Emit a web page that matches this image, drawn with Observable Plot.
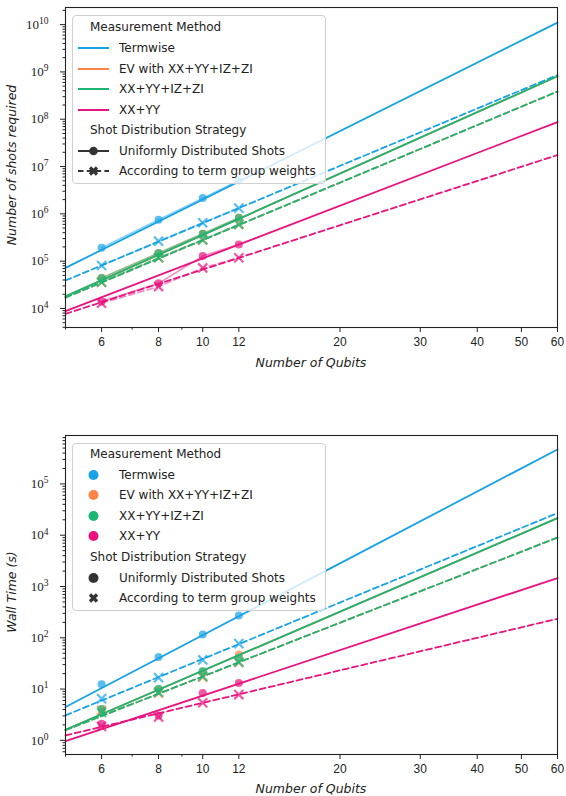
<!DOCTYPE html>
<html>
<head>
<meta charset="utf-8">
<script src="https://cdn.jsdelivr.net/npm/d3@7"></script>
<script src="https://cdn.jsdelivr.net/npm/@observablehq/plot@0.6"></script>
<style>
  body { margin: 0; background: #fff; font-family: "DejaVu Sans", sans-serif; }
  #wrap { position: relative; width: 566px; height: 796px; overflow: hidden; }
  .panel { position: absolute; left: 0; }
  .legend { position: absolute; left: 72px; width: 254px; border: 1px solid #d0d0d0; border-radius: 4px;
            background: rgba(255,255,255,0.8); box-sizing: border-box; font-size: 12px; color: #222; }
  .row { position: absolute; left: 0; height: 20px; line-height: 20px; white-space: nowrap; }
  .row svg { position: absolute; left: 4px; top: 0; }
  .row .lab { position: absolute; left: 46px; }
  .row.title .lab { left: 17px; }
</style>
</head>
<body>
<div id="wrap">
  <div id="top" class="panel" style="top:0px"></div>
  <div id="bottom" class="panel" style="top:420px"></div>
  <div id="legTop" class="legend" style="top:15px;height:169px"></div>
  <div id="legBottom" class="legend" style="top:443px;height:168px"></div>
</div>
<script>
// ---------------- data ----------------
const methods = ["Termwise", "EV with XX+YY+IZ+ZI", "XX+YY+IZ+ZI", "XX+YY"];
const methodColors = ["#17a2e6", "#ff8547", "#1db574", "#e8137e"];
const strategies = ["Uniformly Distributed Shots", "According to term group weights"];
const qubits = [6, 8, 10, 12];
const fitQubits = [5, 60];
const xTicks = [6, 8, 10, 12, 20, 30, 40, 50, 60];
const xMinorTicks = [5, 7, 9];

// Number of shots required (top panel)
const shotsTermwiseUniform = [1.92e5, 7.5e5, 2.15e6, 5.1e6];
const shotsTermwiseWeighted = [8.1e4, 2.65e5, 6.5e5, 1.32e6];
const shotsEVUniform = [4.4e4, 1.48e5, 3.8e5, 8.3e5];
const shotsEVWeighted = [3.6e4, 1.18e5, 2.8e5, 6.0e5];
const shotsGroupedUniform = [4.4e4, 1.48e5, 3.8e5, 8.3e5];
const shotsGroupedWeighted = [3.6e4, 1.18e5, 2.8e5, 6.0e5];
const shotsXXYYUniform = [1.4e4, 3.4e4, 1.28e5, 2.25e5];
const shotsXXYYWeighted = [1.29e4, 2.9e4, 7.2e4, 1.18e5];
// fitted lines, values at 5 and 60 qubits
const shotsFitTermwiseUniform = [7.2e4, 1.1e10];
const shotsFitTermwiseWeighted = [3.9e4, 8.6e8];
const shotsFitEVUniform = [1.8e4, 8.1e8];
const shotsFitEVWeighted = [1.7e4, 3.85e8];
const shotsFitGroupedUniform = [1.8e4, 8.1e8];
const shotsFitGroupedWeighted = [1.7e4, 3.85e8];
const shotsFitXXYYUniform = [8.8e3, 8.7e7];
const shotsFitXXYYWeighted = [7.7e3, 1.75e7];
const shotsDomain = [3.96e3, 2.3e10];
const shotsTicks = [1e4, 1e5, 1e6, 1e7, 1e8, 1e9, 1e10];

// Wall time in seconds (bottom panel)
const timeTermwiseUniform = [12.4, 42, 116, 273];
const timeTermwiseWeighted = [6.5, 16.7, 37, 77];
const timeEVUniform = [4.0, 9.8, 21.5, 47];
const timeEVWeighted = [3.85, 8.3, 17.0, 33];
const timeGroupedUniform = [4.1, 10.2, 22.4, 41];
const timeGroupedWeighted = [3.5, 8.7, 17.7, 33.6];
const timeXXYYUniform = [2.1, 3.07, 8.4, 13.1];
const timeXXYYWeighted = [1.87, 2.85, 5.4, 7.8];
const timeFitTermwiseUniform = [4.46, 4.7e5];
const timeFitTermwiseWeighted = [3.07, 2.7e4];
const timeFitEVUniform = [1.61, 2.15e4];
const timeFitEVWeighted = [1.58, 9.0e3];
const timeFitGroupedUniform = [1.61, 2.15e4];
const timeFitGroupedWeighted = [1.58, 9.0e3];
const timeFitXXYYUniform = [0.97, 1460];
const timeFitXXYYWeighted = [1.25, 235];
const timeDomain = [0.53, 8.8e5];
const timeTicks = [1, 10, 100, 1e3, 1e4, 1e5];

// ---------------- helpers ----------------
function rows(method, strategy, xs, ys) {
  return xs.map((x, i) => ({ method, strategy, key: method + "|" + strategy, x, y: ys[i] }));
}
function minorTicks(domain) {
  const out = [];
  const lo = Math.floor(Math.log10(domain[0])), hi = Math.ceil(Math.log10(domain[1]));
  for (let e = lo; e <= hi; e++) for (let m = 2; m <= 9; m++) {
    const v = m * Math.pow(10, e);
    if (v >= domain[0] && v <= domain[1]) out.push(v);
  }
  return out;
}
const U = strategies[0], Wt = strategies[1];
const drawOrder = ["EV with XX+YY+IZ+ZI", "Termwise", "XX+YY+IZ+ZI", "XX+YY"];

function buildPlot(cfg) {
  const { points, fits, domain, ticks, height, marginTop, marginBottom, connect } = cfg;
  const marks = [
    Plot.axisX({ ticks: xTicks, tickFormat: d => String(d), tickSize: 5, tickPadding: 5, fontSize: 12,
                 fontFamily: "Liberation Sans, sans-serif", label: null, stroke: "#222" }),
    Plot.axisX({ ticks: xMinorTicks, tickFormat: () => "", tickSize: 2.5, label: null, stroke: "#222" }),
    Plot.axisY({ ticks: ticks, tickFormat: d => "10^" + Math.round(Math.log10(d)), tickSize: 5, tickPadding: 12,
                 fontSize: 13, fontFamily: "Liberation Serif, serif", label: null, stroke: "#222" }),
    Plot.axisY({ ticks: minorTicks(domain), tickFormat: () => "", tickSize: 2.5, label: null, stroke: "#222" })
  ];
  for (const m of drawOrder) {
    const pm = points.filter(d => d.method === m);
    const fm = fits.filter(d => d.method === m);
    if (connect) {
      marks.push(Plot.line(pm.filter(d => d.strategy === U), { x: "x", y: "y", z: "key", stroke: "method", strokeWidth: 1.6, strokeOpacity: 0.5 }));
      marks.push(Plot.line(pm.filter(d => d.strategy === Wt), { x: "x", y: "y", z: "key", stroke: "method", strokeWidth: 1.6, strokeOpacity: 0.5, strokeDasharray: "6,3.5" }));
    }
    marks.push(Plot.line(fm.filter(d => d.strategy === U), { x: "x", y: "y", z: "key", stroke: "method", strokeWidth: 1.8 }));
    marks.push(Plot.line(fm.filter(d => d.strategy === Wt), { x: "x", y: "y", z: "key", stroke: "method", strokeWidth: 1.8, strokeDasharray: "6,3.5" }));
    marks.push(Plot.dot(pm.filter(d => d.strategy === U), { x: "x", y: "y", fill: "method", r: 4, fillOpacity: 0.7 }));
    marks.push(Plot.dot(pm.filter(d => d.strategy === Wt), { x: "x", y: "y", stroke: "method", symbol: "times", r: 4.2, strokeWidth: 2.2, strokeOpacity: 0.7 }));
  }
  marks.push(Plot.frame({ stroke: "#222", strokeWidth: 1.1 }));
  const svg = Plot.plot({
    width: 566, height, marginLeft: 65, marginRight: 9, marginTop, marginBottom,
    style: { background: "transparent", color: "#222" },
    x: { type: "log", domain: [5, 60] },
    y: { type: "log", domain },
    color: { domain: methods, range: methodColors },
    marks
  });
  // superscript exponents on y tick labels
  d3.select(svg).selectAll('g[aria-label="y-axis tick label"] text').each(function () {
    const t = this.textContent;
    if (!t.includes("^")) return;
    const [base, exp] = t.split("^");
    const sel = d3.select(this);
    sel.text(null);
    sel.append("tspan").text(base);
    sel.append("tspan").attr("dy", "-0.5em").attr("font-size", "9.5px").text(exp);
  });
  return svg;
}

function addLabels(svg, xLabelY, yLabelX, yLabelY, yText) {
  const s = d3.select(svg);
  s.append("text").attr("x", 311).attr("y", xLabelY).attr("text-anchor", "middle")
    .attr("font-family", "DejaVu Sans, sans-serif").attr("font-style", "italic").attr("font-size", "12.5px")
    .attr("fill", "#222").text("Number of Qubits");
  s.append("text").attr("transform", `translate(${yLabelX},${yLabelY}) rotate(-90)`).attr("text-anchor", "middle")
    .attr("font-family", "DejaVu Sans, sans-serif").attr("font-style", "italic").attr("font-size", "12.5px")
    .attr("fill", "#222").text(yText);
}

// ---------------- top panel ----------------
const shotPoints = [
  ...rows("Termwise", U, qubits, shotsTermwiseUniform), ...rows("Termwise", Wt, qubits, shotsTermwiseWeighted),
  ...rows("EV with XX+YY+IZ+ZI", U, qubits, shotsEVUniform), ...rows("EV with XX+YY+IZ+ZI", Wt, qubits, shotsEVWeighted),
  ...rows("XX+YY+IZ+ZI", U, qubits, shotsGroupedUniform), ...rows("XX+YY+IZ+ZI", Wt, qubits, shotsGroupedWeighted),
  ...rows("XX+YY", U, qubits, shotsXXYYUniform), ...rows("XX+YY", Wt, qubits, shotsXXYYWeighted)
];
const shotFits = [
  ...rows("Termwise", U, fitQubits, shotsFitTermwiseUniform), ...rows("Termwise", Wt, fitQubits, shotsFitTermwiseWeighted),
  ...rows("EV with XX+YY+IZ+ZI", U, fitQubits, shotsFitEVUniform), ...rows("EV with XX+YY+IZ+ZI", Wt, fitQubits, shotsFitEVWeighted),
  ...rows("XX+YY+IZ+ZI", U, fitQubits, shotsFitGroupedUniform), ...rows("XX+YY+IZ+ZI", Wt, fitQubits, shotsFitGroupedWeighted),
  ...rows("XX+YY", U, fitQubits, shotsFitXXYYUniform), ...rows("XX+YY", Wt, fitQubits, shotsFitXXYYWeighted)
];
const topSvg = buildPlot({ points: shotPoints, fits: shotFits, domain: shotsDomain, ticks: shotsTicks,
  height: 420, marginTop: 7, marginBottom: 93, connect: true });
addLabels(topSvg, 367, 16, 165, "Number of shots required");
document.getElementById("top").appendChild(topSvg);

// ---------------- bottom panel ----------------
const timePoints = [
  ...rows("Termwise", U, qubits, timeTermwiseUniform), ...rows("Termwise", Wt, qubits, timeTermwiseWeighted),
  ...rows("EV with XX+YY+IZ+ZI", U, qubits, timeEVUniform), ...rows("EV with XX+YY+IZ+ZI", Wt, qubits, timeEVWeighted),
  ...rows("XX+YY+IZ+ZI", U, qubits, timeGroupedUniform), ...rows("XX+YY+IZ+ZI", Wt, qubits, timeGroupedWeighted),
  ...rows("XX+YY", U, qubits, timeXXYYUniform), ...rows("XX+YY", Wt, qubits, timeXXYYWeighted)
];
const timeFits = [
  ...rows("Termwise", U, fitQubits, timeFitTermwiseUniform), ...rows("Termwise", Wt, fitQubits, timeFitTermwiseWeighted),
  ...rows("EV with XX+YY+IZ+ZI", U, fitQubits, timeFitEVUniform), ...rows("EV with XX+YY+IZ+ZI", Wt, fitQubits, timeFitEVWeighted),
  ...rows("XX+YY+IZ+ZI", U, fitQubits, timeFitGroupedUniform), ...rows("XX+YY+IZ+ZI", Wt, fitQubits, timeFitGroupedWeighted),
  ...rows("XX+YY", U, fitQubits, timeFitXXYYUniform), ...rows("XX+YY", Wt, fitQubits, timeFitXXYYWeighted)
];
const botSvg = buildPlot({ points: timePoints, fits: timeFits, domain: timeDomain, ticks: timeTicks,
  height: 376, marginTop: 15, marginBottom: 42, connect: false });
addLabels(botSvg, 373, 16, 172, "Wall Time (s)");
document.getElementById("bottom").appendChild(botSvg);

// ---------------- legends ----------------
const NS = "http://www.w3.org/2000/svg";
function swatch(kind, color) {
  const svg = d3.create("svg").attr("width", 34).attr("height", 20);
  if (kind === "line") {
    svg.append("line").attr("x1", 1).attr("x2", 32).attr("y1", 10).attr("y2", 10).attr("stroke", color).attr("stroke-width", 2);
  } else if (kind === "lineDot") {
    svg.append("line").attr("x1", 1).attr("x2", 32).attr("y1", 10).attr("y2", 10).attr("stroke", color).attr("stroke-width", 2);
    svg.append("circle").attr("cx", 16.5).attr("cy", 10).attr("r", 4.3).attr("fill", color);
  } else if (kind === "lineX") {
    svg.append("line").attr("x1", 1).attr("x2", 32).attr("y1", 10).attr("y2", 10).attr("stroke", color).attr("stroke-width", 2).attr("stroke-dasharray", "5.5,3.3");
    svg.append("path").attr("d", "M13,6.5L20,13.5M20,6.5L13,13.5").attr("stroke", color).attr("stroke-width", 3.2);
  } else if (kind === "dot") {
    svg.append("circle").attr("cx", 16.5).attr("cy", 10).attr("r", 5).attr("fill", color);
  } else if (kind === "x") {
    svg.append("path").attr("d", "M13,6.5L20,13.5M20,6.5L13,13.5").attr("stroke", color).attr("stroke-width", 3.4);
  }
  return svg.node();
}
function buildLegend(el, centers, methodKind, uniKind, wKind) {
  const items = [
    { title: true, text: "Measurement Method" },
    ...methods.map((m, i) => ({ text: m, kind: methodKind, color: methodColors[i] })),
    { title: true, text: "Shot Distribution Strategy" },
    { text: strategies[0], kind: uniKind, color: "#333" },
    { text: strategies[1], kind: wKind, color: "#333" }
  ];
  items.forEach((it, i) => {
    const row = document.createElement("div");
    row.className = "row" + (it.title ? " title" : "");
    row.style.top = (centers[i] - 10 - 1) + "px";
    if (!it.title) row.appendChild(swatch(it.kind, it.color));
    const lab = document.createElement("span");
    lab.className = "lab";
    lab.textContent = it.text;
    row.appendChild(lab);
    el.appendChild(row);
  });
}
buildLegend(document.getElementById("legTop"), [12.2, 32.7, 53.7, 73.7, 94.5, 114.5, 135.5, 155.8], "line", "lineDot", "lineX");
buildLegend(document.getElementById("legBottom"), [10.5, 31.7, 52.3, 73.2, 93.3, 114, 134.8, 155], "dot", "dot", "x");
</script>
</body>
</html>
